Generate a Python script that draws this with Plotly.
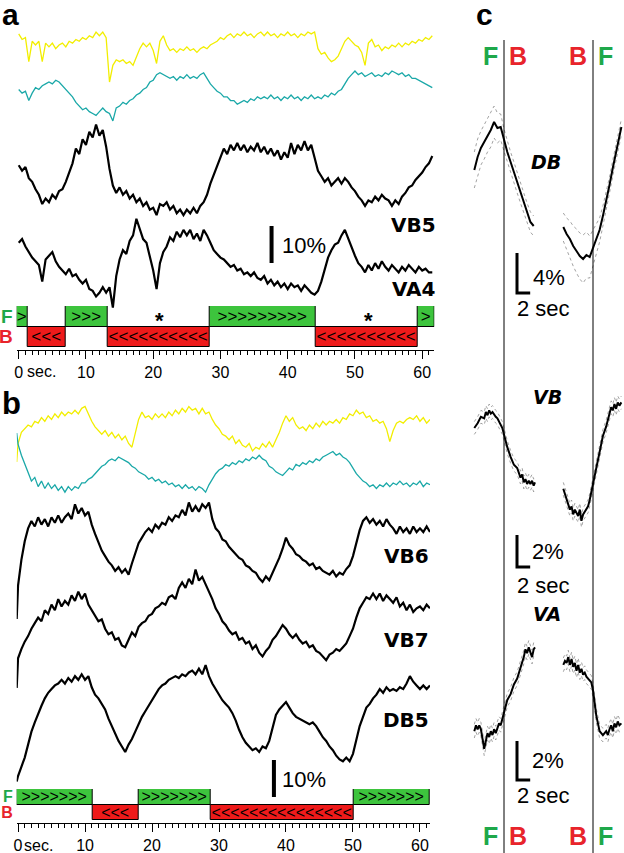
import plotly.graph_objects as go

W, H = 624, 853
PX_PER_PCT = 3.7          # the 10 % scale bar in panels a and b is 37 px tall
FONT = "Liberation Sans, Arial, sans-serif"
GREEN_BAR = "#3dc43d"
RED_BAR = "#ee1a1a"
GREEN_TXT = "#1ea84a"
RED_TXT = "#e8242b"
YELLOW = "#f2ee00"
CYAN = "#1aa8a8"


def px(x):
    return x / W


def py(y):
    return 1 - y / H


# ---------------- panel a / b traces (dF/F in %, sampled every 0.5 s) ----------------
T_A = [0.0, 0.5, 1.0, 1.5, 2.0, 2.5, 3.0, 3.5, 4.0, 4.5,
       5.0, 5.5, 6.0, 6.5, 7.0, 7.5, 8.0, 8.5, 9.0, 9.5,
       10.0, 10.5, 11.0, 11.5, 12.0, 12.5, 13.0, 13.5, 14.0, 14.5,
       15.0, 15.5, 16.0, 16.5, 17.0, 17.5, 18.0, 18.5, 19.0, 19.5,
       20.0, 20.5, 21.0, 21.5, 22.0, 22.5, 23.0, 23.5, 24.0, 24.5,
       25.0, 25.5, 26.0, 26.5, 27.0, 27.5, 28.0, 28.5, 29.0, 29.5,
       30.0, 30.5, 31.0, 31.5, 32.0, 32.5, 33.0, 33.5, 34.0, 34.5,
       35.0, 35.5, 36.0, 36.5, 37.0, 37.5, 38.0, 38.5, 39.0, 39.5,
       40.0, 40.5, 41.0, 41.5, 42.0, 42.5, 43.0, 43.5, 44.0, 44.5,
       45.0, 45.5, 46.0, 46.5, 47.0, 47.5, 48.0, 48.5, 49.0, 49.5,
       50.0, 50.5, 51.0, 51.5, 52.0, 52.5, 53.0, 53.5, 54.0, 54.5,
       55.0, 55.5, 56.0, 56.5, 57.0, 57.5, 58.0, 58.5, 59.0, 59.5,
       60.0, 60.5, 61.0, 61.5]
T_B = [-0.2] + T_A

A_YELLOW = [3.0, 1.5, 2.0, -4.5, 1.0, 0.0, 1.0, -4.5, 0.5, -0.5,
            0.5, -1.0, 0.0, 0.5, -0.5, 1.0, 0.5, 1.5, 1.0, 2.0,
            1.5, 2.5, 2.0, 3.5, 2.5, 3.5, 2.0, -10.0, -5.5, -4.0,
            -4.5, -4.0, -5.0, -4.5, -5.5, -3.0, -1.0, 0.5, -0.5, 0.5,
            -1.5, -5.0, 1.0, 2.5, 0.0, -1.5, -1.0, -2.0, -1.0, -1.5,
            -0.5, -1.5, -1.0, -2.0, -1.0, -0.5, -1.0, 0.0, 0.5, 1.0,
            2.0, 1.5, 2.5, 3.0, 2.0, 3.0, 2.5, 3.5, 2.5, 3.0,
            2.0, 3.0, 3.5, 2.5, 3.5, 2.5, 3.0, 2.0, 3.0, 2.5,
            3.5, 2.5, 3.0, 2.0, 3.0, 2.5, 3.5, 3.0, 3.5, -1.0,
            -2.5, -2.0, -3.5, -4.5, -4.0, -3.0, -1.0, 1.0, 2.0, 1.0,
            0.0, -0.5, -2.0, -5.5, 0.5, 1.5, -0.5, 0.0, -1.5, -0.5,
            -1.0, 0.0, -0.5, 0.5, -0.5, 0.5, 0.0, 1.0, 0.5, 1.5,
            1.0, 2.0, 1.5, 2.5]
A_CYAN = [1.5, 0.5, 1.0, -1.5, 0.5, 2.0, 1.5, 2.5, 3.0, 3.5,
          3.0, 4.0, 3.5, 2.5, 1.5, 0.5, -0.5, -2.0, -3.0, -4.0,
          -3.5, -4.5, -5.0, -5.5, -4.5, -3.5, -4.5, -5.0, -7.0, -3.5,
          -3.0, -2.0, -2.5, -1.5, -1.0, 0.0, 0.5, 1.5, 2.0, 3.5,
          4.0, 5.5, 6.0, 5.5, 5.0, 4.5, 5.0, 4.0, 5.0, 4.5,
          5.5, 4.5, 5.0, 4.5, 5.5, 6.0, 4.5, 3.0, 2.0, 1.0,
          0.5, -0.5, -0.5, -1.5, -1.5, -2.5, -2.0, -1.5, -2.0, -1.0,
          -1.5, -0.5, -1.0, -0.5, -1.0, 0.0, -1.0, -0.5, -1.5, -0.5,
          -1.0, 0.0, -1.0, -0.5, -1.5, -0.5, -1.0, 0.0, -1.0, -0.5,
          -1.0, 0.0, -0.5, 0.5, 0.0, 1.0, 1.5, 3.0, 4.5, 5.5,
          6.5, 5.5, 6.0, 5.0, 5.5, 6.0, 5.0, 5.5, 5.0, 6.0,
          5.5, 6.5, 6.0, 5.5, 6.0, 5.0, 5.5, 4.5, 4.5, 4.0,
          3.5, 3.0, 2.5, 2.0]
A_VB5 = [4.0, 2.5, 3.5, 0.5, -0.5, -2.5, -4.0, -6.5, -5.0, -6.0,
         -4.0, -5.0, -3.0, -2.5, -0.5, 2.0, 4.5, 8.5, 7.0, 11.0,
         9.5, 13.0, 11.5, 15.0, 12.0, 13.5, 9.0, 3.0, -1.5, -3.5,
         -2.0, -4.0, -3.0, -5.0, -4.0, -6.0, -5.0, -7.0, -6.0, -8.0,
         -7.5, -9.5, -6.5, -7.0, -6.0, -8.0, -7.0, -9.0, -8.0, -9.5,
         -8.0, -9.0, -7.5, -9.0, -7.0, -6.0, -4.0, -1.0, 1.5, 4.0,
         6.5, 8.5, 7.0, 9.5, 8.0, 10.0, 8.0, 9.5, 7.5, 9.0,
         8.0, 10.0, 7.5, 9.0, 7.0, 8.5, 6.5, 8.0, 5.5, 7.5,
         6.0, 10.0, 7.0, 9.5, 8.0, 10.5, 8.0, 9.5, 6.0, 2.5,
         1.0, -0.5, 0.5, -1.5, -0.5, 0.5, -1.0, 0.5, -0.5, -2.0,
         -3.0, -4.5, -5.5, -7.0, -5.5, -6.0, -4.5, -5.5, -4.0, -5.0,
         -5.5, -7.0, -5.5, -6.5, -4.5, -3.5, -2.0, -1.5, 0.0, 1.0,
         2.0, 3.5, 4.5, 6.5]
A_VA4 = [6.0, 7.0, 5.0, 3.5, 2.0, 1.0, 0.0, -4.5, 1.5, 2.5,
         3.5, 1.0, -0.5, -1.5, -2.5, -1.0, -3.0, -2.5, -4.0, -5.0,
         -4.0, -6.5, -7.0, -8.5, -7.5, -6.0, -7.5, -6.0, -11.5, -3.0,
         1.5, 4.0, 3.0, 6.5, 8.0, 12.5, 9.5, 7.0, 6.0, 2.5,
         -1.5, -6.5, 0.5, 3.5, 5.0, 7.5, 6.5, 9.0, 7.5, 9.5,
         8.0, 9.5, 7.0, 8.5, 6.5, 9.5, 8.0, 6.0, 4.0, 3.0,
         2.0, 1.5, 0.5, -0.5, 0.0, -1.5, -1.0, -2.5, -2.0, -3.0,
         -2.0, -3.5, -4.0, -3.0, -5.0, -4.0, -5.5, -4.5, -6.0, -5.0,
         -6.5, -5.0, -6.0, -5.5, -7.0, -5.5, -6.5, -7.5, -8.0, -7.0,
         -4.5, -1.0, 2.0, 4.0, 5.5, 6.0, 8.0, 9.5, 7.0, 5.0,
         2.5, 0.5, -0.5, -2.0, 0.0, -1.5, 0.5, -1.0, 1.0, -0.5,
         -1.5, 0.0, -1.0, -2.0, -0.5, -1.5, 0.0, -1.0, -2.0, -0.5,
         -1.5, -1.0, -2.0, -2.0]

B_YELLOW = [-10.0,
            -5.0, -2.0, -1.0, 0.0, -0.5, 1.0, 0.5, 2.0, 1.0, 2.5,
            1.5, 3.0, 2.0, 3.5, 2.5, 3.5, 3.0, 4.0, 3.0, 4.5,
            5.0, 3.0, 1.0, -0.5, -1.5, -2.5, -1.5, -3.0, -2.0, -3.5,
            -2.5, -4.0, -3.0, -5.0, -6.0, -2.0, 1.5, 3.5, 2.0, 2.5,
            1.5, 3.0, 2.0, 3.0, 2.0, 3.5, 2.5, 4.0, 3.0, 4.5,
            3.5, 5.0, 4.0, 4.5, 3.0, 4.5, 3.0, 3.5, 1.5, 0.0,
            -1.0, -2.5, -3.0, -4.0, -3.0, -5.0, -4.0, -5.5, -6.0, -5.0,
            -7.0, -6.0, -6.5, -5.0, -6.0, -4.5, -6.0, -4.0, -2.0, 0.5,
            2.5, 1.0, 2.0, 0.0, -1.0, -0.5, -1.5, 0.0, -1.0, 0.5,
            -0.5, 1.0, 0.0, 1.0, 0.5, 1.5, 0.5, 2.0, 1.5, 3.0,
            2.5, 4.0, 3.0, 3.5, 2.0, 2.5, 1.0, 1.5, 0.5, 1.0,
            -1.0, -4.5, -1.5, 0.5, 1.0, 0.5, 1.5, 2.0, 1.5, 2.5,
            1.0, 2.0, 0.5, 1.5]
B_CYAN = [10.0,
          7.0, 4.0, 1.5, -1.0, -3.0, -2.0, -4.5, -3.0, -5.0, -3.5,
          -5.0, -4.0, -5.5, -4.5, -6.0, -4.5, -5.5, -4.5, -5.0, -3.5,
          -3.5, -2.5, -2.0, -1.0, 0.0, 1.0, 1.5, 2.5, 3.0, 2.5,
          3.5, 3.0, 2.5, 2.0, 1.0, 0.5, -0.5, -1.0, -1.5, -2.5,
          -2.0, -3.0, -2.5, -3.5, -3.0, -4.0, -3.5, -4.5, -4.0, -5.0,
          -4.0, -5.0, -4.5, -5.5, -4.5, -5.0, -6.0, -4.0, -2.5, -1.0,
          0.0, 0.5, 1.5, 1.0, 2.0, 1.5, 2.5, 2.0, 3.0, 2.5,
          3.5, 3.0, 4.0, 3.0, 2.5, 1.0, 0.5, -0.5, -1.0, -1.5,
          -0.5, 0.5, 0.0, 1.5, 1.0, 2.0, 1.5, 2.5, 2.0, 3.0,
          2.5, 3.5, 4.0, 4.5, 5.0, 4.0, 4.5, 3.5, 3.0, 2.0,
          0.5, -1.0, -2.0, -3.0, -3.5, -4.5, -4.0, -5.0, -4.0, -4.5,
          -3.5, -4.5, -3.5, -4.0, -3.0, -4.0, -3.5, -4.5, -3.5, -4.0,
          -3.0, -4.5, -3.5, -4.0]
B_VB6 = [-20.0,
         -11.0, -4.0, 1.0, 4.5, 6.5, 5.0, 7.5, 5.5, 7.0, 5.0,
         7.5, 6.0, 8.0, 6.0, 7.5, 8.5, 7.0, 11.0, 8.5, 10.0,
         8.0, 9.0, 5.5, 3.0, 0.5, -1.5, -3.0, -4.5, -5.5, -7.0,
         -6.0, -7.5, -6.5, -8.0, -5.0, -2.0, 0.5, 2.0, 3.5, 4.5,
         3.5, 5.5, 4.5, 6.0, 5.5, 7.5, 6.5, 8.0, 7.5, 9.5,
         8.0, 11.5, 9.0, 10.5, 9.0, 11.0, 10.0, 11.5, 7.0, 4.5,
         3.5, 1.5, 1.0, -0.5, -1.5, -2.5, -3.5, -4.0, -5.5, -6.0,
         -7.0, -7.5, -9.0, -10.0, -8.5, -9.5, -7.5, -5.5, -3.5, -1.0,
         2.0, 0.0, -1.0, -2.5, -3.0, -4.0, -4.5, -5.5, -5.0, -6.5,
         -6.0, -7.0, -7.5, -8.0, -7.0, -8.5, -7.5, -8.0, -6.5, -5.5,
         -3.0, 0.5, 4.0, 6.5, 7.5, 6.0, 7.0, 5.5, 6.5, 5.0,
         7.0, 5.5, 4.5, 3.0, 5.0, 3.5, 4.5, 3.0, 5.0, 3.5,
         4.5, 3.5, 5.0, 3.5]
B_VB7 = [-17.0,
         -9.0, -6.5, -4.5, -3.0, -1.0, 0.5, 2.0, 1.0, 4.0, 3.0,
         5.5, 4.0, 7.0, 5.0, 6.5, 5.5, 8.0, 6.5, 9.0, 7.0,
         8.5, 5.5, 4.0, 2.5, 1.0, 1.5, -1.0, -2.5, -2.0, -4.0,
         -3.5, -5.5, -6.0, -4.0, -2.0, -3.0, -0.5, 0.5, 1.0, 2.5,
         3.0, 4.5, 5.0, 6.0, 5.5, 7.5, 8.0, 7.0, 10.0, 11.5,
         10.0, 12.5, 11.0, 15.0, 12.0, 13.0, 11.0, 9.0, 7.0, 4.5,
         3.0, 1.0, 0.0, -1.5, -2.5, -2.0, -4.0, -3.5, -5.0, -4.5,
         -6.5, -5.5, -7.5, -8.5, -7.0, -6.0, -4.0, -3.0, -1.5, 0.0,
         -1.0, -2.5, -3.5, -2.5, -4.0, -5.0, -4.5, -6.0, -5.5, -7.0,
         -7.5, -8.5, -9.5, -8.0, -7.5, -6.5, -7.0, -6.0, -5.0, -3.0,
         -1.0, 2.0, 4.5, 6.0, 7.5, 7.0, 8.5, 7.0, 8.5, 6.5,
         8.0, 7.0, 6.0, 7.5, 5.0, 6.0, 4.0, 5.5, 3.5, 4.5,
         5.0, 4.0, 5.5, 4.5]
B_DB5 = [-18.0,
         -16.5, -14.0, -11.5, -8.0, -4.5, -2.0, 0.5, 2.5, 4.5, 6.0,
         7.0, 8.0, 8.5, 9.5, 8.5, 10.0, 9.0, 10.5, 9.5, 11.0,
         9.5, 10.5, 7.5, 5.5, 4.5, 3.0, 1.5, -1.0, -3.0, -5.0,
         -7.0, -8.5, -10.0, -8.0, -6.5, -4.5, -2.5, -0.5, 1.0, 2.5,
         4.0, 5.5, 7.0, 8.0, 8.5, 9.5, 10.0, 10.5, 10.0, 11.0,
         10.5, 11.5, 12.0, 11.0, 12.5, 11.0, 13.5, 10.5, 8.5, 7.0,
         5.5, 4.0, 3.0, 2.0, 0.5, -1.5, -4.0, -6.0, -7.5, -8.5,
         -9.5, -9.0, -10.0, -8.5, -9.0, -7.0, -3.5, 0.0, 1.5, 2.5,
         3.5, 2.0, 0.5, -0.5, -1.0, -1.5, -2.0, -2.5, -2.0, -3.0,
         -4.5, -6.0, -7.0, -8.5, -9.5, -11.0, -12.0, -12.5, -11.5, -12.5,
         -10.5, -7.0, -3.0, -0.5, 2.0, 3.0, 4.5, 5.5, 7.0, 6.0,
         7.5, 6.5, 7.0, 6.5, 7.5, 7.0, 8.5, 10.5, 9.0, 8.0,
         7.0, 8.0, 7.0, 8.0]

# ---------------- behaviour bars (seconds) ----------------
A_F_START = [-0.3, 7.0, 28.4, 59.3]
A_F_END = [1.3, 13.2, 44.1, 61.8]
A_F_TEXT = [1, 3, 9, 1]
A_B_START = [1.3, 13.2, 44.1]
A_B_END = [7.0, 28.4, 59.3]
A_B_TEXT = [3, 10, 10]
A_STARS = [21.0, 52.0]

B_F_START = [-0.2, 18.0, 50.1]
B_F_END = [11.1, 28.8, 61.5]
B_F_TEXT = [7, 7, 7]
B_B_START = [11.1, 28.8]
B_B_END = [18.0, 50.1]
B_B_TEXT = [3, 15]

TICKS = [0, 10, 20, 30, 40, 50, 60]
TICK_TEXT = ["0", "10", "20", "30", "40", "50", "60"]

# ---------------- panel c: mean and SEM around transitions ----------------
DB_L_T = [-4.5, -4.0, -3.5, -3.0, -2.5, -2.0, -1.5, -1.0, -0.5, 0.0, 0.5, 1.0, 1.5, 2.0, 2.5, 3.0, 3.5, 4.0, 4.5]
DB_L_M = [1.0, 2.3, 3.2, 3.8, 4.5, 5.0, 5.8, 5.2, 5.3, 4.0, 2.8, 1.8, 0.8, -0.3, -1.3, -2.3, -3.3, -4.2, -4.6]
DB_L_S = [1.8, 1.8, 1.7, 1.7, 1.7, 1.7, 1.6, 1.5, 1.3, 1.1, 1.0, 1.0, 1.0, 1.0, 1.0, 1.0, 1.0, 1.0, 1.0]
DB_R_T = [-4.5, -4.0, -3.5, -3.0, -2.5, -2.0, -1.5, -1.0, -0.5, 0.0, 0.5, 1.0, 1.5, 2.0, 2.5, 3.0, 3.5, 4.0, 4.3]
DB_R_M = [-4.7, -5.4, -5.9, -6.6, -7.1, -7.6, -7.9, -7.5, -7.7, -6.8, -6.0, -5.0, -3.6, -2.2, -0.5, 1.2, 2.8, 4.3, 5.3]
DB_R_S = [1.4, 1.6, 1.8, 2.0, 2.2, 2.3, 2.4, 2.3, 2.1, 1.8, 1.5, 1.2, 1.0, 0.9, 0.8, 0.8, 0.8, 0.8, 0.8]

VB_L_T = [-4.5, -4.0, -3.5, -3.0, -2.75, -2.5, -2.25, -2.0, -1.75, -1.5, -1.25, -1.0, -0.75, -0.5, -0.25,
          0.0, 0.5, 1.0, 1.5, 2.0, 2.5, 2.75, 3.0, 3.25, 3.5, 3.75, 4.0, 4.25, 4.5, 4.7]
VB_L_M = [-0.5, -0.2, 0.2, 0.1, 0.5, 0.3, 0.6, 0.4, 0.5, 0.3, 0.2, 0.1, -0.1, -0.3, -0.5,
          -0.9, -1.7, -2.3, -2.8, -3.0, -3.6, -3.4, -3.9, -3.7, -4.0, -3.8, -4.0, -3.8, -4.1, -3.9]
VB_R_T = [-4.5, -4.25, -4.0, -3.75, -3.5, -3.25, -3.0, -2.75, -2.5, -2.25, -2.0, -1.75, -1.5, -1.25, -1.0,
          -0.75, -0.5, -0.25, 0.0, 0.5, 1.0, 1.5, 2.0, 2.5, 2.75, 3.0, 3.25, 3.5, 3.75, 4.0, 4.3]
VB_R_M = [-4.3, -4.6, -5.0, -5.3, -5.6, -5.4, -5.9, -5.6, -5.8, -6.0, -5.6, -6.3, -5.9, -5.7, -5.5,
          -5.4, -5.0, -4.5, -3.8, -2.8, -1.8, -1.0, -0.4, 0.4, 0.8, 0.6, 1.0, 0.7, 1.1, 0.9, 1.1]
VB_SEM = 0.4

VA_L_T = [-4.5, -4.25, -4.0, -3.75, -3.5, -3.25, -3.0, -2.75, -2.5, -2.25, -2.0, -1.75, -1.5, -1.25, -1.0,
          -0.75, -0.5, -0.25, 0.0, 0.5, 1.0, 1.5, 2.0, 2.5, 3.0, 3.25, 3.5, 3.75, 4.0, 4.25, 4.5, 4.7]
VA_L_M = [-1.6, -1.3, -1.5, -1.3, -1.5, -2.0, -2.5, -2.1, -1.7, -1.9, -1.6, -1.8, -1.5, -1.7, -1.4,
          -1.2, -1.3, -1.0, -0.6, 0.0, 0.3, 0.8, 1.1, 1.6, 2.2, 2.6, 2.4, 2.7, 2.4, 2.2, 2.6, 2.7]
VA_R_T = [-4.5, -4.25, -4.0, -3.75, -3.5, -3.25, -3.0, -2.75, -2.5, -2.25, -2.0, -1.75, -1.5, -1.25, -1.0,
          -0.75, -0.5, -0.25, 0.0, 0.25, 0.5, 0.75, 1.0, 1.25, 1.5, 2.0, 2.25, 2.5, 2.75, 3.0, 3.25, 3.5,
          3.75, 4.0, 4.3]
VA_R_M = [1.8, 2.0, 1.9, 2.2, 1.8, 2.1, 1.7, 1.9, 1.5, 1.8, 1.4, 1.6, 1.3, 1.4, 1.2,
          1.1, 1.0, 0.9, 0.5, -0.2, -0.8, -1.2, -1.6, -1.7, -1.8, -1.6, -1.8, -1.5, -1.3, -1.6, -1.2, -1.4,
          -1.1, -1.3, -1.2]
VA_SEM = 0.35

fig = go.Figure()


def add_raw(t, vals, base_px, color, width, xaxis):
    off = -base_px / PX_PER_PCT
    fig.add_trace(go.Scatter(x=t, y=[off + v for v in vals], mode="lines",
                             line=dict(color=color, width=width),
                             xaxis=xaxis, yaxis="y", hoverinfo="skip"))


add_raw(T_A, A_YELLOW, 45, YELLOW, 1.3, "x")
add_raw(T_A, A_CYAN, 95, CYAN, 1.3, "x")
add_raw(T_A, A_VB5, 180, "black", 2.2, "x")
add_raw(T_A, A_VA4, 265, "black", 2.2, "x")

add_raw(T_B, B_YELLOW, 425, YELLOW, 1.3, "x2")
add_raw(T_B, B_CYAN, 470, CYAN, 1.3, "x2")
add_raw(T_B, B_VB6, 545, "black", 2.2, "x2")
add_raw(T_B, B_VB7, 625, "black", 2.2, "x2")
add_raw(T_B, B_DB5, 715, "black", 2.2, "x2")


def add_bars(starts, ends, n_arrows, row, color, arrow, xaxis, yaxis, size):
    fig.add_trace(go.Bar(
        y=[row] * len(starts), base=starts, x=[e - s for s, e in zip(starts, ends)],
        orientation="h", width=1,
        marker=dict(color=color, line=dict(color="black", width=1)),
        text=[arrow * n for n in n_arrows], textposition="inside",
        insidetextanchor="middle", textangle=0, constraintext="none",
        textfont=dict(size=size, color="black", family=FONT),
        xaxis=xaxis, yaxis=yaxis, hoverinfo="skip"))


add_bars(A_F_START, A_F_END, A_F_TEXT, "F", GREEN_BAR, "&gt;", "x", "y3", 17)
add_bars(A_B_START, A_B_END, A_B_TEXT, "B", RED_BAR, "&lt;", "x", "y3", 17)
add_bars(B_F_START, B_F_END, B_F_TEXT, "F", GREEN_BAR, "&gt;", "x2", "y4", 16)
add_bars(B_B_START, B_B_END, B_B_TEXT, "B", RED_BAR, "&lt;", "x2", "y4", 16)

# 10 % scale bars (panels a, b)
fig.add_trace(go.Scatter(x=[37.6, 37.6], y=[-263 / PX_PER_PCT, -263 / PX_PER_PCT + 10], mode="lines",
                         line=dict(color="black", width=4), xaxis="x", yaxis="y", hoverinfo="skip"))
fig.add_trace(go.Scatter(x=[38.2, 38.2], y=[-797 / PX_PER_PCT, -797 / PX_PER_PCT + 10], mode="lines",
                         line=dict(color="black", width=4), xaxis="x2", yaxis="y", hoverinfo="skip"))


def add_avg(t, mean, sem, xaxis, yaxis):
    if not isinstance(sem, list):
        sem = [sem] * len(mean)
    for sign in (1, -1):
        fig.add_trace(go.Scatter(x=t, y=[m + sign * s for m, s in zip(mean, sem)], mode="lines",
                                 line=dict(color="#8a8a8a", width=0.8, dash="dot"),
                                 xaxis=xaxis, yaxis=yaxis, hoverinfo="skip"))
    fig.add_trace(go.Scatter(x=t, y=mean, mode="lines", line=dict(color="black", width=2),
                             xaxis=xaxis, yaxis=yaxis, hoverinfo="skip"))


add_avg(DB_L_T, DB_L_M, DB_L_S, "x3", "y5")
add_avg(DB_R_T, DB_R_M, DB_R_S, "x4", "y5")
add_avg(VB_L_T, VB_L_M, VB_SEM, "x3", "y6")
add_avg(VB_R_T, VB_R_M, VB_SEM, "x4", "y6")
add_avg(VA_L_T, VA_L_M, VA_SEM, "x3", "y7")
add_avg(VA_R_T, VA_R_M, VA_SEM, "x4", "y7")


def add_lbar(yaxis, ytop, pct):
    fig.add_trace(go.Scatter(x=[1.97, 1.97, 3.97], y=[ytop, ytop - pct, ytop - pct], mode="lines",
                             line=dict(color="black", width=3), xaxis="x3", yaxis=yaxis,
                             hoverinfo="skip"))


add_lbar("y5", -7.3, 4)
add_lbar("y6", -7.19, 2)
add_lbar("y7", -2.10, 2)

for xr in ("x3", "x4"):
    fig.add_shape(type="line", xref=xr, yref="paper", x0=0, x1=0, y0=0, y1=py(40),
                  line=dict(color="black", width=1))

ann = []


def text(x, y, s, size, xanchor="center", color="black", xref="paper", yref="paper", family=FONT):
    ann.append(dict(x=x, y=y, xref=xref, yref=yref, text=s, showarrow=False, xanchor=xanchor,
                    yanchor="middle", font=dict(size=size, color=color, family=family)))


text(0, py(15), "<b>a</b>", 30, "left")
text(0, py(404), "<b>b</b>", 31, "left")
text(px(474), py(15), "<b>c</b>", 30, "left")

BOLD = "DejaVu Sans, sans-serif"
text(px(438), py(225), "<b>VB5</b>", 20, "right", family=BOLD)
text(px(438), py(289), "<b>VA4</b>", 20, "right", family=BOLD)
text(px(431), py(556), "<b>VB6</b>", 20, "right", family=BOLD)
text(px(431), py(640), "<b>VB7</b>", 20, "right", family=BOLD)
text(px(431), py(720), "<b>DB5</b>", 20, "right", family=BOLD)

text(38.9, -245 / PX_PER_PCT, "10%", 22, "left", xref="x", yref="y")
text(39.1, -779 / PX_PER_PCT, "10%", 22, "left", xref="x2", yref="y")
for s in A_STARS:
    text(s, py(320), "<b>*</b>", 22, xref="x")

text(1.0, py(371), "sec.", 16, "left", xref="x")
text(0.6, py(845), "sec.", 16, "left", xref="x2")

text(px(546), py(162), "<b><i>DB</i></b>", 19, family=BOLD)
text(px(547), py(397), "<b><i>VB</i></b>", 19, family=BOLD)
text(px(547), py(614), "<b><i>VA</i></b>", 19, family=BOLD)
text(px(531), py(278), "4%", 22, "left")
text(px(515), py(308), "2 sec", 22, "left")
text(px(530), py(551), "2%", 22, "left")
text(px(515), py(585), "2 sec", 22, "left")
text(px(530), py(760), "2%", 22, "left")
text(px(515), py(795), "2 sec", 22, "left")

for yy in (56, 836):
    text(px(490), py(yy), "<b>F</b>", 25, color=GREEN_TXT)
    text(px(518), py(yy), "<b>B</b>", 25, color=RED_TXT)
    text(px(578), py(yy), "<b>B</b>", 25, color=RED_TXT)
    text(px(605), py(yy), "<b>F</b>", 25, color=GREEN_TXT)

FB_TEXT = ['<b><span style="color:%s">B</span></b>' % RED_TXT,
           '<b><span style="color:%s">F</span></b>' % GREEN_TXT]


def time_axis(domain, rng, pos):
    return dict(domain=domain, range=rng, anchor="free", position=pos, showline=True,
                linecolor="black", linewidth=1, showgrid=False, zeroline=False, automargin=False,
                ticks="outside", ticklen=8, tickwidth=1, tickcolor="black",
                tickmode="array", tickvals=TICKS, ticktext=TICK_TEXT,
                tickfont=dict(size=16, color="black", family=FONT),
                minor=dict(dtick=1, tick0=0, ticks="outside", ticklen=4, tickwidth=1,
                           tickcolor="black", showgrid=False))


def bar_axis(domain, anchor, size):
    return dict(domain=domain, anchor=anchor, type="category", categoryorder="array",
                categoryarray=["B", "F"], range=[-0.5, 1.5], tickmode="array",
                tickvals=[0, 1], ticktext=FB_TEXT, ticks="", showline=False, showgrid=False,
                zeroline=False, ticklabelstandoff=3, automargin=False,
                tickfont=dict(size=size, family=FONT))


hidden = dict(visible=False, showgrid=False, zeroline=False, automargin=False)

fig.update_layout(
    template="none",
    width=W, height=H, autosize=False,
    margin=dict(l=0, r=0, t=0, b=0, pad=0),
    paper_bgcolor="white", plot_bgcolor="rgba(0,0,0,0)",
    showlegend=False, barmode="overlay", bargap=0,
    font=dict(family=FONT, color="black"),
    xaxis=time_axis([px(16.7), px(434.3)], [-0.3, 61.8], py(350)),
    xaxis2=time_axis([px(16.7), px(430)], [-0.2, 61.5], py(823)),
    xaxis3=dict(domain=[px(460), px(548)], range=[-6.67, 6.67], anchor="y5", **hidden),
    xaxis4=dict(domain=[px(562), px(624)], range=[-4.697, 4.697], anchor="y5", **hidden),
    yaxis=dict(domain=[0, 1], range=[-H / PX_PER_PCT, 0], anchor="x", **hidden),
    yaxis3=bar_axis([py(347), py(306)], "x", 19),
    yaxis4=bar_axis([py(820), py(789)], "x2", 16),
    yaxis5=dict(domain=[py(330), py(80)], range=[-15, 10], anchor="x3", **hidden),
    yaxis6=dict(domain=[py(600), py(360)], range=[-11.25, 3.75], anchor="x3", **hidden),
    yaxis7=dict(domain=[py(810), py(600)], range=[-5.641, 5.128], anchor="x3", **hidden),
    annotations=ann,
)

# the page body has a default 8 px margin; remove it so the figure fills the window
fig.write_html("out.html", config={"displayModeBar": False},
               post_script="document.body.style.margin='0';")
